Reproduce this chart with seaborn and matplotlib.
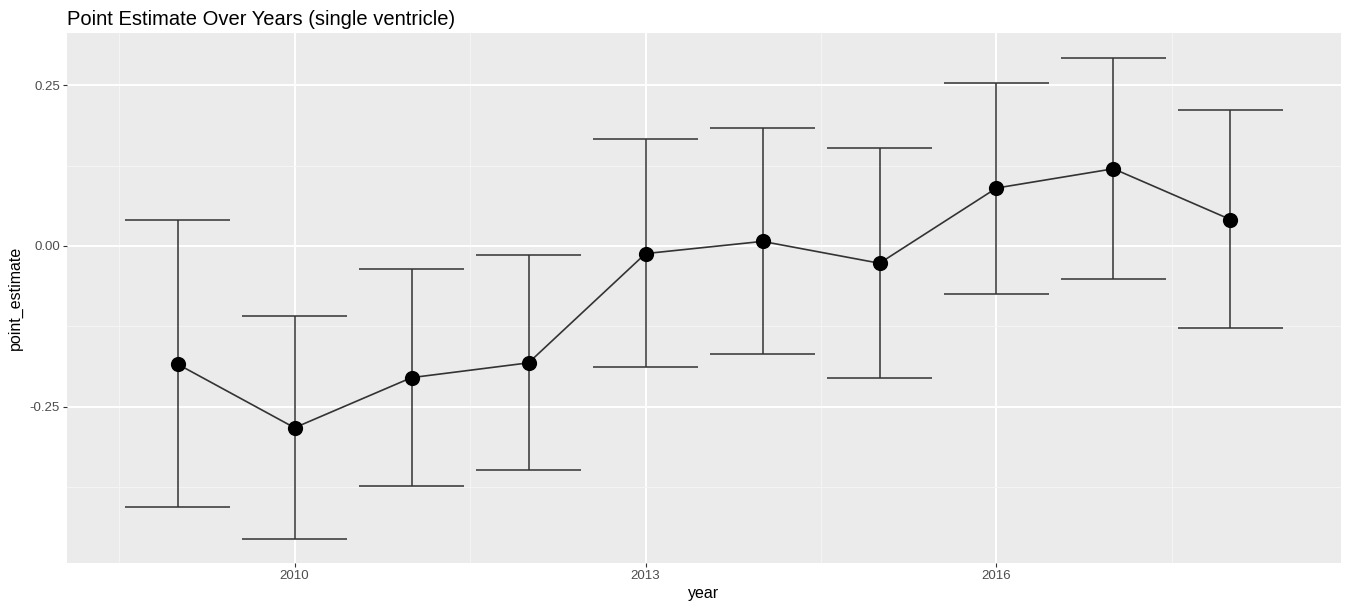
import numpy as np
import pandas as pd
import matplotlib
matplotlib.use("Agg")
import matplotlib.pyplot as plt
import seaborn as sns

# values
years = [2009, 2010, 2011, 2012, 2013, 2014, 2015, 2016, 2017, 2018]
point_estimate = [-0.184, -0.283, -0.205, -0.182, -0.012, 0.007, -0.027, 0.090, 0.120, 0.041]
ci_lower = [-0.407, -0.456, -0.374, -0.349, -0.188, -0.168, -0.205, -0.075, -0.051, -0.128]
ci_upper = [0.041, -0.109, -0.036, -0.014, 0.166, 0.183, 0.152, 0.254, 0.293, 0.212]
x_ticks = [2010, 2013, 2016]
y_ticks = [-0.25, 0.00, 0.25]

df = pd.DataFrame({"year": years, "point_estimate": point_estimate,
                   "lower": ci_lower, "upper": ci_upper})

sns.set_theme(style="darkgrid", rc={
    "axes.facecolor": "#EBEBEB",
    "grid.color": "white",
})
plt.rcParams["font.family"] = ["Liberation Sans", "DejaVu Sans"]

fig = plt.figure(figsize=(13.46, 6.09), dpi=100)
ax = fig.add_axes([0.0498, 0.0755, 0.9465, 0.8695])

# error bars (vertical + caps of width 0.9)
ax.vlines(df["year"], df["lower"], df["upper"], color="#333333", lw=1.1, zorder=2)
ax.hlines(df["lower"], df["year"] - 0.45, df["year"] + 0.45, color="#333333", lw=1.1, zorder=2)
ax.hlines(df["upper"], df["year"] - 0.45, df["year"] + 0.45, color="#333333", lw=1.1, zorder=2)

sns.lineplot(data=df, x="year", y="point_estimate", color="#333333", lw=1.2,
             ax=ax, zorder=3)
sns.scatterplot(data=df, x="year", y="point_estimate", color="black", s=120,
                edgecolor="black", linewidth=0, ax=ax, zorder=4)

ax.set_xlim(2008.055, 2018.945)
ax.set_ylim(-0.4935, 0.3305)
ax.set_xticks(x_ticks)
ax.set_xticklabels([str(t) for t in x_ticks])
ax.set_yticks(y_ticks)
ax.set_yticklabels([f"{t:.2f}" for t in y_ticks])
ax.set_xticks([2008.5, 2011.5, 2014.5, 2017.5], minor=True)
ax.set_yticks([-0.375, -0.125, 0.125], minor=True)
ax.grid(which="major", color="white", lw=1.4)
ax.grid(which="minor", color="#F5F5F5", lw=0.7)

ax.tick_params(axis="both", which="major", length=3, width=0.8, color="#333333",
               labelsize=9.5, labelcolor="#4D4D4D", pad=2, bottom=True, left=True)
ax.tick_params(axis="both", which="minor", length=0)
for s in ax.spines.values():
    s.set_visible(False)

ax.set_xlabel("year", fontsize=11.5, color="black", labelpad=3)
ax.set_ylabel("point_estimate", fontsize=11.5, color="black", labelpad=5)
ax.set_title("Point Estimate Over Years (single ventricle)", loc="left",
             fontsize=14.5, color="black", pad=6)

fig.savefig("out.png", dpi=100)
